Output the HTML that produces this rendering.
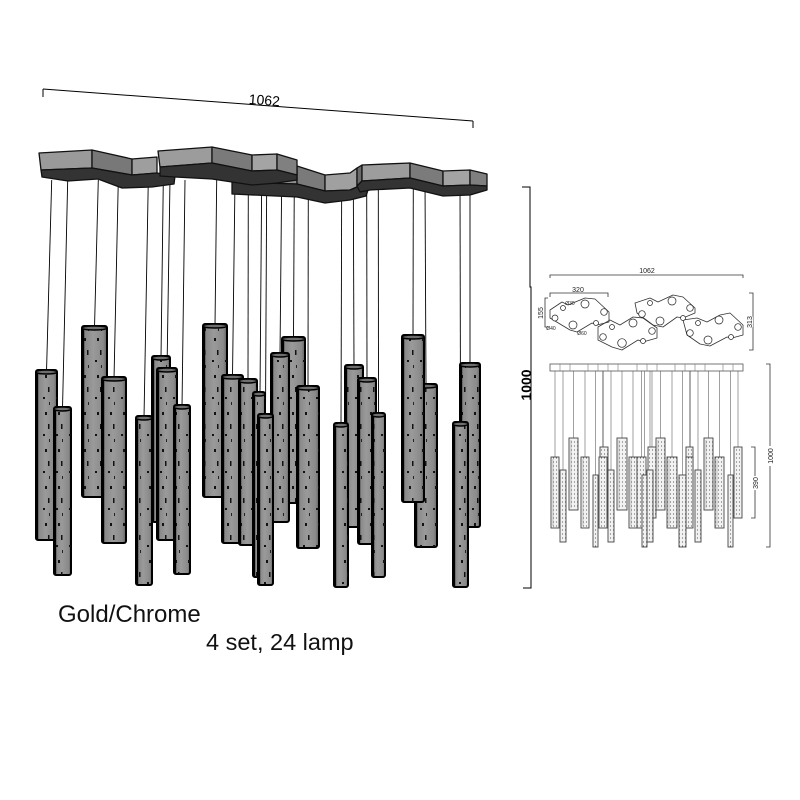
<!DOCTYPE html>
<html><head><meta charset="utf-8"><style>
html,body{margin:0;padding:0;background:#fff;}
svg{display:block;}
.t{fill:url(#tg);stroke:#000;stroke-width:2}
.s{fill:url(#sp)}
.c{fill:#6e6e6e;stroke:#000;stroke-width:1.4}
.e{stroke:#000;stroke-width:2.4}
.w{stroke:#000;stroke-width:0.9}
.pl{stroke:#111;stroke-width:1.3;stroke-linejoin:round}
.et{fill:url(#dots);stroke:#444;stroke-width:0.9}
.ew{stroke:#888;stroke-width:0.8}
.d{stroke:#333;stroke-width:0.8;fill:none}
.u{fill:none;stroke:#333;stroke-width:0.8;stroke-linejoin:round}
.ci{fill:#fff;stroke:#222;stroke-width:0.7}
</style></head><body>
<svg width="800" height="800" viewBox="0 0 800 800" xmlns="http://www.w3.org/2000/svg">
<defs>
<linearGradient id="tg" x1="0" y1="0" x2="1" y2="0">
<stop offset="0" stop-color="#555"/><stop offset="0.12" stop-color="#888"/><stop offset="0.45" stop-color="#9a9a9a"/><stop offset="0.85" stop-color="#8a8a8a"/><stop offset="1" stop-color="#606060"/>
</linearGradient>
<pattern id="sp" patternUnits="userSpaceOnUse" width="13" height="37">
<rect x="6" y="5" width="2" height="3" fill="#111"/>
<rect x="9" y="17" width="1.5" height="5" fill="#111"/>
<rect x="4" y="27" width="2" height="2" fill="#111"/>
<rect x="10" y="32" width="1" height="3" fill="#222"/>
</pattern>
<pattern id="dots" patternUnits="userSpaceOnUse" width="3" height="4">
<rect width="3" height="4" fill="#f2f2f2"/>
<circle cx="1.5" cy="2" r="0.55" fill="#333"/>
</pattern>
</defs>

<!-- top dimension -->
<line x1="43" y1="89" x2="473" y2="121" stroke="#000" stroke-width="1"/>
<line x1="43" y1="89" x2="43" y2="97" stroke="#000" stroke-width="1"/>
<line x1="473" y1="121" x2="473" y2="128" stroke="#000" stroke-width="1"/>
<text x="264" y="105" transform="rotate(4.3 264 105)" font-family="Liberation Sans, sans-serif" font-size="14" text-anchor="middle" fill="#000">1062</text>

<!-- wires -->
<g class="w">
<line x1="51.7" y1="180" x2="46.5" y2="372"/>
<line x1="67.7" y1="180" x2="62.5" y2="409"/>
<line x1="98.3" y1="180" x2="94.5" y2="328"/>
<line x1="118.3" y1="180" x2="114" y2="379"/>
<line x1="163.3" y1="180" x2="161" y2="358"/>
<line x1="148.3" y1="180" x2="144" y2="418"/>
<line x1="170" y1="180" x2="167" y2="370"/>
<line x1="185" y1="180" x2="182" y2="407"/>
<line x1="216.7" y1="180" x2="215" y2="326"/>
<line x1="235" y1="180" x2="232.5" y2="377"/>
<line x1="248.3" y1="180" x2="248" y2="381"/>
<line x1="261.7" y1="180" x2="260" y2="394"/>
<line x1="266.7" y1="180" x2="265.5" y2="416"/>
<line x1="281.7" y1="180" x2="280" y2="355"/>
<line x1="294.3" y1="180" x2="293.5" y2="339"/>
<line x1="308.3" y1="180" x2="308" y2="388"/>
<line x1="341.7" y1="180" x2="341" y2="425"/>
<line x1="353.3" y1="180" x2="354" y2="367"/>
<line x1="366.7" y1="180" x2="367" y2="380"/>
<line x1="378.3" y1="180" x2="378.5" y2="415"/>
<line x1="413.3" y1="180" x2="413" y2="337"/>
<line x1="425" y1="180" x2="426" y2="386"/>
<line x1="460" y1="180" x2="460.5" y2="424"/>
<line x1="470" y1="180" x2="470" y2="365"/>
</g>

<!-- canopy plate C (behind) -->
<g class="pl">
<polygon points="232,165 297,166 297,184 232,182" fill="#8f8f8f"/>
<polygon points="297,166 325,175 325,191 297,184" fill="#7a7a7a"/>
<polygon points="325,175 350,173 357,168 357,187 350,190 325,191" fill="#a0a0a0"/>
<polygon points="232,182 297,184 325,191 350,190 357,187 368,190 366,196 350,200 325,203 297,197 232,194" fill="#333"/>
</g>
<!-- plate A -->
<g class="pl">
<polygon points="39,153 92,150 92,168 41,170" fill="#9a9a9a"/>
<polygon points="92,150 132,159 132,175 92,168" fill="#787878"/>
<polygon points="132,159 157,157 157,173 132,175" fill="#9e9e9e"/>
<polygon points="41,170 92,168 132,175 157,173 175,176 174,184 152,187 122,188 98,179 68,181 42,177" fill="#333"/>
</g>
<!-- plate B -->
<g class="pl">
<polygon points="158,151 212,147 212,163 160,167" fill="#9c9c9c"/>
<polygon points="212,147 252,155 252,171 212,163" fill="#7a7a7a"/>
<polygon points="252,155 277,154 277,170 252,171" fill="#a4a4a4"/>
<polygon points="277,154 297,160 297,175 277,170" fill="#808080"/>
<polygon points="160,167 212,163 252,171 277,170 297,175 297,180 277,183 252,185 212,179 175,177 160,176" fill="#333"/>
</g>
<!-- plate D -->
<g class="pl">
<polygon points="357,168 362,165 362,181 357,186" fill="#6a6a6a"/>
<polygon points="362,165 410,163 410,178 362,181" fill="#9d9d9d"/>
<polygon points="410,163 443,171 443,186 410,178" fill="#7b7b7b"/>
<polygon points="443,171 470,170 470,185 443,186" fill="#a3a3a3"/>
<polygon points="470,170 487,174 487,186 470,185" fill="#7f7f7f"/>
<polygon points="357,186 362,181 410,178 443,186 470,185 487,186 487,190 470,195 443,196 410,188 370,190 360,192" fill="#333"/>
</g>

<!-- tubes -->
<g>
<rect x="82" y="326" width="25" height="171" rx="2" class="t"/><rect x="82" y="326" width="25" height="171" class="s"/><line x1="83" y1="328" x2="83" y2="497" class="e"/><ellipse cx="94.5" cy="328" rx="12.5" ry="2" class="c"/>
<rect x="203" y="324" width="24" height="173" rx="2" class="t"/><rect x="203" y="324" width="24" height="173" class="s"/><line x1="204" y1="326" x2="204" y2="497" class="e"/><ellipse cx="215" cy="326" rx="12" ry="2" class="c"/>
<rect x="282" y="337" width="23" height="166" rx="2" class="t"/><rect x="282" y="337" width="23" height="166" class="s"/><line x1="283" y1="339" x2="283" y2="503" class="e"/><ellipse cx="293.5" cy="339" rx="11.5" ry="2" class="c"/>
<rect x="152" y="356" width="18" height="166" rx="2" class="t"/><rect x="152" y="356" width="18" height="166" class="s"/><line x1="153" y1="358" x2="153" y2="522" class="e"/><ellipse cx="161" cy="358" rx="9" ry="2" class="c"/>
<rect x="271" y="353" width="18" height="169" rx="2" class="t"/><rect x="271" y="353" width="18" height="169" class="s"/><line x1="272" y1="355" x2="272" y2="522" class="e"/><ellipse cx="280" cy="355" rx="9" ry="2" class="c"/>
<rect x="345" y="365" width="18" height="162" rx="2" class="t"/><rect x="345" y="365" width="18" height="162" class="s"/><line x1="346" y1="367" x2="346" y2="527" class="e"/><ellipse cx="354" cy="367" rx="9" ry="2" class="c"/>
<rect x="460" y="363" width="20" height="164" rx="2" class="t"/><rect x="460" y="363" width="20" height="164" class="s"/><line x1="461" y1="365" x2="461" y2="527" class="e"/><ellipse cx="470" cy="365" rx="10" ry="2" class="c"/>
<rect x="36" y="370" width="21" height="170" rx="2" class="t"/><rect x="36" y="370" width="21" height="170" class="s"/><line x1="37" y1="372" x2="37" y2="540" class="e"/><ellipse cx="46.5" cy="372" rx="10.5" ry="2" class="c"/>
<rect x="157" y="368" width="20" height="172" rx="2" class="t"/><rect x="157" y="368" width="20" height="172" class="s"/><line x1="158" y1="370" x2="158" y2="540" class="e"/><ellipse cx="167" cy="370" rx="10" ry="2" class="c"/>
<rect x="102" y="377" width="24" height="166" rx="2" class="t"/><rect x="102" y="377" width="24" height="166" class="s"/><line x1="103" y1="379" x2="103" y2="543" class="e"/><ellipse cx="114" cy="379" rx="12" ry="2" class="c"/>
<rect x="222" y="375" width="21" height="168" rx="2" class="t"/><rect x="222" y="375" width="21" height="168" class="s"/><line x1="223" y1="377" x2="223" y2="543" class="e"/><ellipse cx="232.5" cy="377" rx="10.5" ry="2" class="c"/>
<rect x="358" y="378" width="18" height="166" rx="2" class="t"/><rect x="358" y="378" width="18" height="166" class="s"/><line x1="359" y1="380" x2="359" y2="544" class="e"/><ellipse cx="367" cy="380" rx="9" ry="2" class="c"/>
<rect x="239" y="379" width="18" height="166" rx="2" class="t"/><rect x="239" y="379" width="18" height="166" class="s"/><line x1="240" y1="381" x2="240" y2="545" class="e"/><ellipse cx="248" cy="381" rx="9" ry="2" class="c"/>
<rect x="415" y="384" width="22" height="163" rx="2" class="t"/><rect x="415" y="384" width="22" height="163" class="s"/><line x1="416" y1="386" x2="416" y2="547" class="e"/><ellipse cx="426" cy="386" rx="11" ry="2" class="c"/>
<rect x="402" y="335" width="22" height="167" rx="2" class="t"/><rect x="402" y="335" width="22" height="167" class="s"/><line x1="403" y1="337" x2="403" y2="502" class="e"/><ellipse cx="413" cy="337" rx="11" ry="2" class="c"/>
<rect x="297" y="386" width="22" height="162" rx="2" class="t"/><rect x="297" y="386" width="22" height="162" class="s"/><line x1="298" y1="388" x2="298" y2="548" class="e"/><ellipse cx="308" cy="388" rx="11" ry="2" class="c"/>
<rect x="174" y="405" width="16" height="169" rx="2" class="t"/><rect x="174" y="405" width="16" height="169" class="s"/><line x1="175" y1="407" x2="175" y2="574" class="e"/><ellipse cx="182" cy="407" rx="8" ry="2" class="c"/>
<rect x="54" y="407" width="17" height="168" rx="2" class="t"/><rect x="54" y="407" width="17" height="168" class="s"/><line x1="55" y1="409" x2="55" y2="575" class="e"/><ellipse cx="62.5" cy="409" rx="8.5" ry="2" class="c"/>
<rect x="253" y="392" width="12" height="185" rx="2" class="t"/><rect x="253" y="392" width="12" height="185" class="s"/><line x1="254" y1="394" x2="254" y2="577" class="e"/><ellipse cx="259" cy="394" rx="6" ry="2" class="c"/>
<rect x="372" y="413" width="13" height="164" rx="2" class="t"/><rect x="372" y="413" width="13" height="164" class="s"/><line x1="373" y1="415" x2="373" y2="577" class="e"/><ellipse cx="378.5" cy="415" rx="6.5" ry="2" class="c"/>
<rect x="136" y="416" width="16" height="169" rx="2" class="t"/><rect x="136" y="416" width="16" height="169" class="s"/><line x1="137" y1="418" x2="137" y2="585" class="e"/><ellipse cx="144" cy="418" rx="8" ry="2" class="c"/>
<rect x="258" y="414" width="15" height="171" rx="2" class="t"/><rect x="258" y="414" width="15" height="171" class="s"/><line x1="259" y1="416" x2="259" y2="585" class="e"/><ellipse cx="265.5" cy="416" rx="7.5" ry="2" class="c"/>
<rect x="334" y="423" width="14" height="164" rx="2" class="t"/><rect x="334" y="423" width="14" height="164" class="s"/><line x1="335" y1="425" x2="335" y2="587" class="e"/><ellipse cx="341" cy="425" rx="7" ry="2" class="c"/>
<rect x="453" y="422" width="15" height="165" rx="2" class="t"/><rect x="453" y="422" width="15" height="165" class="s"/><line x1="454" y1="424" x2="454" y2="587" class="e"/><ellipse cx="460.5" cy="424" rx="7.5" ry="2" class="c"/>
</g>

<!-- captions -->
<text x="58" y="622" font-family="Liberation Sans, sans-serif" font-size="24" fill="#111">Gold/Chrome</text>
<text x="206" y="650" font-family="Liberation Sans, sans-serif" font-size="23.5" fill="#111">4 set, 24 lamp</text>

<!-- big 1000 dimension -->
<polyline points="522,187 530,187 530,287 531,287 531,588 523,588" fill="none" stroke="#000" stroke-width="1"/>
<text x="531" y="385" transform="rotate(-90 531 385)" font-family="Liberation Sans, sans-serif" font-size="14" font-weight="bold" text-anchor="middle" fill="#000">1000</text>

<!-- plan view dims -->
<g class="d">
<polyline points="550,278 550,275 743,275 743,278"/>
<polyline points="550,297 550,293 608,293 608,297"/>
<polyline points="548,298 545,298 545,327 548,327"/>
<polyline points="749,293 753,293 753,350 749,350"/>
</g>
<g font-family="Liberation Sans, sans-serif" font-size="7" fill="#222" text-anchor="middle">
<text x="647" y="273">1062</text>
<text x="578" y="292">320</text>
<text x="543" y="313" transform="rotate(-90 543 313)">155</text>
<text x="752" y="322" transform="rotate(-90 752 322)" style="paint-order:stroke" stroke="#fff" stroke-width="2">313</text>
<text x="570" y="305" font-size="5">Ø30</text>
<text x="551" y="330" font-size="5">Ø40</text>
<text x="582" y="335" font-size="5">Ø60</text>
</g>

<!-- plan outline units -->
<polygon class="u" points="550,310 562,302 568,305 585,298 595,299 609,312 609,322 597,325 592,323 577,332 570,330 550,318"/>
<polygon class="u" points="598,327 610,320 620,325 633,317 643,318 657,328 657,338 643,342 638,340 622,350 612,347 598,340"/>
<polygon class="u" points="635,303 650,298 658,302 673,295 683,297 695,308 695,313 683,318 677,317 663,327 653,325 637,313"/>
<polygon class="u" points="683,320 697,318 707,322 720,315 730,313 743,325 743,335 732,338 727,337 710,346 700,344 687,335"/>
<g>
<circle class="ci" cx="563" cy="308" r="2.5"/><circle class="ci" cx="585" cy="304" r="4"/><circle class="ci" cx="604" cy="312" r="3.3"/>
<circle class="ci" cx="555" cy="318" r="3"/><circle class="ci" cx="573" cy="325" r="4"/><circle class="ci" cx="596" cy="323" r="2.5"/>
<circle class="ci" cx="612" cy="327" r="2.5"/><circle class="ci" cx="633" cy="323" r="4"/><circle class="ci" cx="603" cy="337" r="3.3"/>
<circle class="ci" cx="622" cy="343" r="4.3"/><circle class="ci" cx="652" cy="331" r="3.3"/><circle class="ci" cx="643" cy="341" r="2.5"/>
<circle class="ci" cx="650" cy="303" r="2.5"/><circle class="ci" cx="672" cy="301" r="4"/><circle class="ci" cx="690" cy="308" r="3.3"/>
<circle class="ci" cx="642" cy="314" r="3.3"/><circle class="ci" cx="660" cy="321" r="4"/><circle class="ci" cx="683" cy="318" r="2.5"/>
<circle class="ci" cx="698" cy="323" r="2.5"/><circle class="ci" cx="719" cy="320" r="4"/><circle class="ci" cx="738" cy="327" r="3.3"/>
<circle class="ci" cx="690" cy="333" r="3.3"/><circle class="ci" cx="708" cy="340" r="4"/><circle class="ci" cx="731" cy="337" r="2.5"/>
</g>

<!-- elevation wires -->
<g class="ew">
<line x1="555" y1="371" x2="555" y2="457"/>
<line x1="563" y1="371" x2="563" y2="470"/>
<line x1="573.5" y1="371" x2="573.5" y2="438"/>
<line x1="585" y1="371" x2="585" y2="457"/>
<line x1="595.5" y1="371" x2="595.5" y2="475"/>
<line x1="603" y1="371" x2="603" y2="457" style="stroke:#333"/>
<line x1="611" y1="371" x2="611" y2="470"/>
<line x1="622" y1="371" x2="622" y2="438"/>
<line x1="633" y1="371" x2="633" y2="457"/>
<line x1="641.5" y1="371" x2="641.5" y2="457"/>
<line x1="644.5" y1="371" x2="644.5" y2="475"/>
<line x1="650" y1="371" x2="650" y2="470"/>
<line x1="652" y1="371" x2="652" y2="447"/>
<line x1="660.5" y1="371" x2="660.5" y2="438"/>
<line x1="672" y1="371" x2="672" y2="457"/>
<line x1="682.5" y1="371" x2="682.5" y2="475"/>
<line x1="690" y1="371" x2="690" y2="457" style="stroke:#333"/>
<line x1="698" y1="371" x2="698" y2="470"/>
<line x1="708.5" y1="371" x2="708.5" y2="438"/>
<line x1="719.5" y1="371" x2="719.5" y2="457"/>
<line x1="730.5" y1="371" x2="730.5" y2="475"/>
<line x1="738" y1="371" x2="738" y2="447"/>
</g>
<!-- elevation canopy bar -->
<rect x="550" y="364" width="193" height="7" fill="#fff" stroke="#555" stroke-width="0.8"/>
<g stroke="#777" stroke-width="0.6">
<line x1="560" y1="364" x2="560" y2="371"/><line x1="570" y1="364" x2="570" y2="371"/><line x1="588" y1="364" x2="588" y2="371"/>
<line x1="598" y1="364" x2="598" y2="371"/><line x1="608" y1="364" x2="608" y2="371"/><line x1="618" y1="364" x2="618" y2="371"/>
<line x1="637" y1="364" x2="637" y2="371"/><line x1="647" y1="364" x2="647" y2="371"/><line x1="657" y1="364" x2="657" y2="371"/>
<line x1="675" y1="364" x2="675" y2="371"/><line x1="685" y1="364" x2="685" y2="371"/><line x1="695" y1="364" x2="695" y2="371"/>
<line x1="705" y1="364" x2="705" y2="371"/><line x1="723" y1="364" x2="723" y2="371"/><line x1="733" y1="364" x2="733" y2="371"/>
</g>
<!-- elevation tubes -->
<g>
<rect class="et" x="569" y="438" width="9" height="72"/>
<rect class="et" x="617" y="438" width="10" height="72"/>
<rect class="et" x="656" y="438" width="9" height="72"/>
<rect class="et" x="704" y="438" width="9" height="72"/>
<rect class="et" x="600" y="447" width="8" height="71"/>
<rect class="et" x="648" y="447" width="8" height="71"/>
<rect class="et" x="686" y="447" width="7" height="71"/>
<rect class="et" x="734" y="447" width="8" height="71"/>
<rect class="et" x="551" y="457" width="8" height="71"/>
<rect class="et" x="581" y="457" width="8" height="71"/>
<rect class="et" x="599" y="457" width="8" height="71"/>
<rect class="et" x="629" y="457" width="8" height="71"/>
<rect class="et" x="637" y="457" width="9" height="71"/>
<rect class="et" x="667" y="457" width="10" height="71"/>
<rect class="et" x="686" y="457" width="7" height="71"/>
<rect class="et" x="715" y="457" width="9" height="71"/>
<rect class="et" x="560" y="470" width="6" height="72"/>
<rect class="et" x="608" y="470" width="6" height="72"/>
<rect class="et" x="647" y="470" width="6" height="72"/>
<rect class="et" x="695" y="470" width="6" height="72"/>
<rect class="et" x="593" y="475" width="5" height="72"/>
<rect class="et" x="642" y="475" width="5" height="72"/>
<rect class="et" x="679" y="475" width="7" height="72"/>
<rect class="et" x="728" y="475" width="5" height="72"/>
</g>
<g stroke="#888" stroke-width="0.5">
<line x1="571" y1="440" x2="571" y2="508"/><line x1="619" y1="440" x2="619" y2="508"/><line x1="658" y1="440" x2="658" y2="508"/><line x1="706" y1="440" x2="706" y2="508"/>
<line x1="553" y1="459" x2="553" y2="526"/><line x1="583" y1="459" x2="583" y2="526"/><line x1="631" y1="459" x2="631" y2="526"/><line x1="669" y1="459" x2="669" y2="526"/><line x1="717" y1="459" x2="717" y2="526"/>
</g>
<!-- elevation dims -->
<g class="d">
<polyline points="751,447 755,447 755,476"/>
<polyline points="755,490 755,518 751,518"/>
<polyline points="766,364 770,364 770,446"/>
<polyline points="770,466 770,547 766,547"/>
</g>
<g font-family="Liberation Sans, sans-serif" font-size="7" fill="#222" text-anchor="middle">
<text x="758" y="483" transform="rotate(-90 758 483)">390</text>
<text x="773" y="456" transform="rotate(-90 773 456)">1000</text>
</g>
</svg>
</body></html>
